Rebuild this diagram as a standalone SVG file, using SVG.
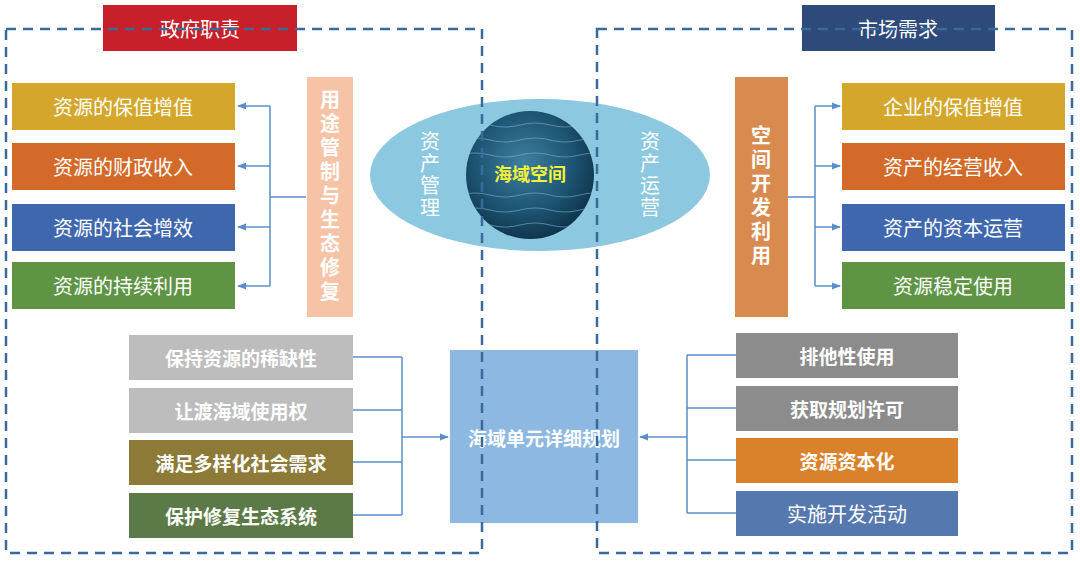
<svg xmlns="http://www.w3.org/2000/svg" width="1080" height="562" viewBox="0 0 1080 562">
<defs>
<style>
text{font-family:"Noto Sans CJK SC","Noto Sans",sans-serif;fill:#fff;text-anchor:middle;dominant-baseline:central}
.t{font-size:20px}
.b{font-size:19px;font-weight:bold}
.ln{fill:none;stroke:#5B8EC9;stroke-width:1.5}
.dash{fill:none;stroke:#3A6A9A;stroke-width:2.5;stroke-dasharray:10 7}
</style>
<marker id="ar" viewBox="0 0 10 10" refX="9" refY="5" markerWidth="6" markerHeight="6" orient="auto"><path d="M0,1 L10,5 L0,9 z" fill="#5B8EC9"/></marker>
<radialGradient id="sea" cx="0.45" cy="0.4" r="0.65"><stop offset="0" stop-color="#3f7fa0"/><stop offset="0.6" stop-color="#1e5472"/><stop offset="1" stop-color="#0d2f45"/></radialGradient>
<clipPath id="cc"><circle cx="530" cy="175" r="64"/></clipPath>
</defs>
<rect width="1080" height="562" fill="#fff"/>

<g id="ellipse">
<ellipse cx="540" cy="175" rx="170" ry="76" fill="#8CC8E0"/>
<circle cx="530" cy="175" r="64" fill="url(#sea)"/>
<g clip-path="url(#cc)" stroke="#7fb6cf" stroke-width="1.2" fill="none" opacity="0.55">
<path d="M460,125 q15,-4 30,0 t30,0 t30,0 t30,0 t30,0"/><path d="M460,140 q15,-4 30,0 t30,0 t30,0 t30,0 t30,0"/>
<path d="M460,155 q15,-4 30,0 t30,0 t30,0 t30,0 t30,0"/><path d="M460,195 q15,-4 30,0 t30,0 t30,0 t30,0 t30,0"/>
<path d="M460,210 q15,-4 30,0 t30,0 t30,0 t30,0 t30,0"/><path d="M460,225 q15,-4 30,0 t30,0 t30,0 t30,0 t30,0"/>
</g>
<text x="530" y="173" style="font-size:18px;font-weight:bold;fill:#F2F23A">海域空间</text>
<text x="430" y="175" class="t" style="writing-mode:vertical-rl;letter-spacing:2px">资产管理</text>
<text x="650" y="175" class="t" style="writing-mode:vertical-rl;letter-spacing:2px">资产运营</text>
</g>

<g id="gov-header"><rect x="103" y="5" width="194" height="46" fill="#C8202A"/><text x="200" y="28" class="t">政府职责</text></g>
<g id="mkt-header"><rect x="802" y="5" width="193" height="46" fill="#2E4A7A"/><text x="898" y="28" class="t">市场需求</text></g>

<g id="l1"><rect x="12" y="83" width="223" height="47" fill="#D4A72C"/><text x="123" y="106" class="t">资源的保值增值</text></g>
<g id="l2"><rect x="12" y="143" width="223" height="47" fill="#D46A2A"/><text x="123" y="166" class="t">资源的财政收入</text></g>
<g id="l3"><rect x="12" y="204" width="223" height="47" fill="#3F67AE"/><text x="123" y="227" class="t">资源的社会增效</text></g>
<g id="l4"><rect x="12" y="262" width="223" height="47" fill="#5E9444"/><text x="123" y="285" class="t">资源的持续利用</text></g>
<g id="lv"><rect x="307" y="77" width="46" height="240" fill="#F6C3A6"/><text x="330" y="197" class="b" style="writing-mode:vertical-rl;font-size:20px;letter-spacing:4px">用途管制与生态修复</text></g>

<g id="r1"><rect x="842" y="83" width="223" height="47" fill="#D4A72C"/><text x="953" y="106" class="t">企业的保值增值</text></g>
<g id="r2"><rect x="842" y="143" width="223" height="47" fill="#D46A2A"/><text x="953" y="166" class="t">资产的经营收入</text></g>
<g id="r3"><rect x="842" y="204" width="223" height="47" fill="#3F67AE"/><text x="953" y="227" class="t">资产的资本运营</text></g>
<g id="r4"><rect x="842" y="262" width="223" height="47" fill="#5E9444"/><text x="953" y="285" class="t">资源稳定使用</text></g>
<g id="rv"><rect x="735" y="77" width="53" height="240" fill="#D98A4E"/><text x="761" y="197" class="b" style="writing-mode:vertical-rl;font-size:20px;letter-spacing:4px">空间开发利用</text></g>

<g id="bl1"><rect x="129" y="335" width="224" height="45" fill="#BDBDBD"/><text x="241" y="357" class="b">保持资源的稀缺性</text></g>
<g id="bl2"><rect x="129" y="388" width="224" height="45" fill="#BDBDBD"/><text x="241" y="410" class="b">让渡海域使用权</text></g>
<g id="bl3"><rect x="129" y="440" width="224" height="45" fill="#8C7A36"/><text x="241" y="462" class="b">满足多样化社会需求</text></g>
<g id="bl4"><rect x="129" y="493" width="224" height="45" fill="#5C7A47"/><text x="241" y="515" class="b">保护修复生态系统</text></g>

<g id="center"><rect x="450" y="350" width="188" height="173" fill="#8DB8E2"/><text x="544" y="437" class="b">海域单元详细规划</text></g>

<g id="br1"><rect x="736" y="333" width="222" height="45" fill="#8C8C8C"/><text x="847" y="355" class="b">排他性使用</text></g>
<g id="br2"><rect x="736" y="386" width="222" height="45" fill="#8C8C8C"/><text x="847" y="408" class="b">获取规划许可</text></g>
<g id="br3"><rect x="736" y="438" width="222" height="45" fill="#D9822B"/><text x="847" y="460" class="b">资源资本化</text></g>
<g id="br4"><rect x="736" y="491" width="222" height="45" fill="#5578AE"/><text x="847" y="513" class="t">实施开发活动</text></g>

<g id="connectors">
<path class="ln" d="M306,197 H270 M270,106 V286"/>
<path class="ln" marker-end="url(#ar)" d="M270,106 H238"/>
<path class="ln" marker-end="url(#ar)" d="M270,166 H238"/>
<path class="ln" marker-end="url(#ar)" d="M270,227 H238"/>
<path class="ln" marker-end="url(#ar)" d="M270,286 H238"/>
<path class="ln" d="M788,197 H815 M815,106 V286"/>
<path class="ln" marker-end="url(#ar)" d="M815,106 H840"/>
<path class="ln" marker-end="url(#ar)" d="M815,166 H840"/>
<path class="ln" marker-end="url(#ar)" d="M815,227 H840"/>
<path class="ln" marker-end="url(#ar)" d="M815,286 H840"/>
<path class="ln" d="M353,357 H402 M353,410 H402 M353,462 H402 M353,515 H402 M402,357 V515"/>
<path class="ln" marker-end="url(#ar)" d="M402,437 H448"/>
<path class="ln" d="M736,355 H687 M736,408 H687 M736,460 H687 M736,513 H687 M687,355 V513"/>
<path class="ln" marker-end="url(#ar)" d="M687,437 H640"/>
</g>

<g id="frames">
<rect x="6" y="29" width="476" height="524" class="dash"/>
<rect x="597" y="29" width="475" height="524" class="dash"/>
</g>
</svg>
